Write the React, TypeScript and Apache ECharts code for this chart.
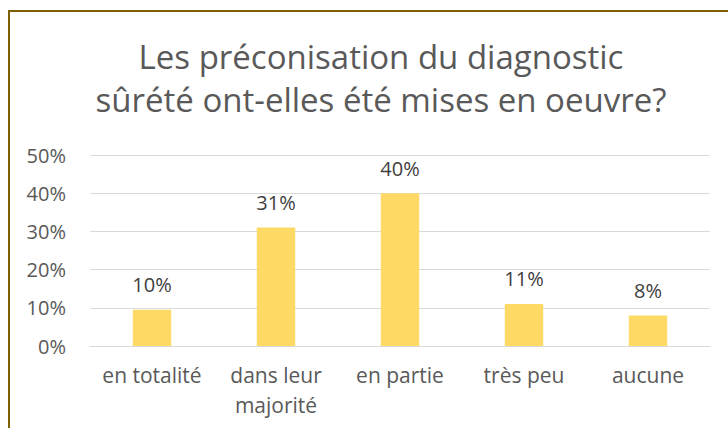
import React, { useEffect, useRef } from "react";
import * as echarts from "echarts";

const categories = ["en totalité", "dans leur\nmajorité", "en partie", "très peu", "aucune"];
const values = [0.095, 0.31, 0.4, 0.11, 0.08];
const titleLines = ["Les préconisation du diagnostic", "sûrété ont-elles été mises en oeuvre?"];
const yMax = 0.5;
const yStep = 0.1;

const FONT = "'Open Sans'";
const TEXT = "#595959";

export default function App() {
  const ref = useRef<HTMLDivElement>(null);
  useEffect(() => {
    if (!ref.current) return;
    const chart = echarts.init(ref.current, undefined, { renderer: "svg" });
    chart.setOption({
      animation: false,
      backgroundColor: "#ffffff",
      textStyle: { fontFamily: FONT },
      graphic: [
        {
          type: "rect",
          shape: { x: 9, y: 11, width: 800, height: 500 },
          style: { fill: "none", stroke: "#7F6000", lineWidth: 2 },
          silent: true,
        },
        {
          type: "text",
          x: 381,
          y: 56,
          style: {
            text: titleLines[0],
            fill: TEXT,
            font: `33px ${FONT}`,
            textAlign: "center",
            textVerticalAlign: "middle",
          },
        },
        {
          type: "text",
          x: 381,
          y: 99,
          style: {
            text: titleLines[1],
            fill: TEXT,
            font: `33px ${FONT}`,
            textAlign: "center",
            textVerticalAlign: "middle",
          },
        },
      ],
      grid: { left: 90, right: 18, top: 155, bottom: 82, containLabel: false },
      xAxis: {
        type: "category",
        data: categories,
        axisLine: { show: true, lineStyle: { color: "#D9D9D9", width: 1 } },
        axisTick: { show: false },
        axisLabel: {
          color: TEXT,
          fontSize: 21,
          fontFamily: FONT,
          lineHeight: 30,
          margin: 14,
          interval: 0,
        },
      },
      yAxis: {
        type: "value",
        min: 0,
        max: yMax,
        interval: yStep,
        axisLine: { show: false },
        axisTick: { show: false },
        splitLine: { lineStyle: { color: "#D9D9D9", width: 1 } },
        axisLabel: {
          color: TEXT,
          fontSize: 20,
          fontFamily: FONT,
          margin: 24,
          formatter: (v: number) => `${Math.round(v * 100)}%`,
        },
      },
      series: [
        {
          type: "bar",
          data: values,
          barWidth: "31%",
          itemStyle: { color: "#FFD966" },
          label: {
            show: true,
            position: "top",
            distance: 15,
            color: "#404040",
            fontSize: 20,
            fontFamily: FONT,
            lineHeight: 20,
            formatter: (p: any) => `${Math.round(p.value * 100)}%`,
          },
        },
      ],
    });
    return () => chart.dispose();
  }, []);
  return (
    <div style={{ position: "absolute", left: 0, top: 0, width: 728, height: 428, overflow: "hidden" }}>
      <div ref={ref} style={{ width: 728, height: 428 }} />
    </div>
  );
}
